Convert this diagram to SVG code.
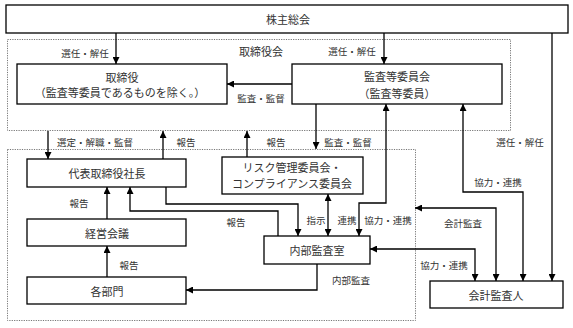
<svg xmlns="http://www.w3.org/2000/svg" width="573" height="328" viewBox="0 0 573 328">
<style>
.box{fill:#fff;stroke:#000;stroke-width:1.3}
.grp{fill:none;stroke:#777;stroke-width:1;stroke-dasharray:1.2 1.2}
.t{font-family:"Noto Sans CJK JP","Noto Sans CJK SC",sans-serif;font-size:11px;fill:#333;text-anchor:middle;dominant-baseline:central}
.l{font-family:"Noto Sans CJK JP","Noto Sans CJK SC",sans-serif;font-size:9.5px;fill:#333;text-anchor:middle;dominant-baseline:central}
.c{fill:none;stroke:#000;stroke-width:1.3}
.a{marker-end:url(#ah)}
.b{marker-start:url(#ahs);marker-end:url(#ah)}
</style>
<defs>
<marker id="ah" viewBox="0 0 10 10" refX="10" refY="5" markerWidth="7" markerHeight="7" markerUnits="userSpaceOnUse" orient="auto"><path d="M0,0 L10,5 L0,10 z" fill="#000"/></marker>
<marker id="ahs" viewBox="0 0 10 10" refX="0" refY="5" markerWidth="7" markerHeight="7" markerUnits="userSpaceOnUse" orient="auto"><path d="M10,0 L0,5 L10,10 z" fill="#000"/></marker>
</defs>
<rect width="573" height="328" fill="#fff"/>
<g id="board-group">
<rect class="grp" x="7.5" y="39.5" width="503" height="91"/>
<text class="t" x="261" y="51">取締役会</text>
</g>
<g id="exec-group">
<rect class="grp" x="7.5" y="149.5" width="408" height="171"/>
</g>
<g id="connectors">
<path class="c a" d="M116,33 V64"/>
<path class="c a" d="M384,33 V64"/>
<path class="c a" d="M552,33 V281"/>
<path class="c a" d="M292,84 H227"/>
<path class="c a" d="M48,131 V159"/>
<path class="c a" d="M163,159 V131"/>
<path class="c a" d="M247,157 V131"/>
<path class="c a" d="M316,104 V149"/>
<path class="c a" d="M107,219 V187"/>
<path class="c a" d="M107,277 V246"/>
<path class="c a" d="M166,187 V204 H298 V236"/>
<path class="c a" d="M278,236 V211 H130 V187"/>
<path class="c b" d="M328,194 V236"/>
<path class="c b" d="M386,104 V203 H359 V236"/>
<path class="c b" d="M415,208 H496 V281"/>
<path class="c b" d="M463,104 V192 H523 V281"/>
<path class="c b" d="M370,249 H475 V281"/>
<path class="c a" d="M317,264 V290 H186"/>
<text class="l" x="85" y="53">選任・解任</text>
<text class="l" x="352" y="51">選任・解任</text>
<text class="l" x="520" y="142">選任・解任</text>
<text class="l" x="261" y="98">監査・監督</text>
<text class="l" x="95" y="142">選定・解職・監督</text>
<text class="l" x="186" y="142">報告</text>
<text class="l" x="276" y="142">報告</text>
<text class="l" x="348" y="142">監査・監督</text>
<text class="l" x="79" y="203">報告</text>
<text class="l" x="129" y="265">報告</text>
<text class="l" x="236" y="222">報告</text>
<text class="l" x="316" y="220">指示</text>
<text class="l" x="347" y="220">連携</text>
<text class="l" x="388" y="220">協力・連携</text>
<text class="l" x="463" y="223">会計監査</text>
<text class="l" x="498" y="182">協力・連携</text>
<text class="l" x="444" y="265">協力・連携</text>
<text class="l" x="351" y="280">内部監査</text>
</g>
<g id="shareholders">
<rect class="box" x="6" y="5" width="562" height="28"/>
<text class="t" x="288" y="19">株主総会</text>
</g>
<g id="directors">
<rect class="box" x="17" y="64" width="210" height="40"/>
<text class="t" x="122" y="77">取締役</text>
<text class="t" x="120" y="92">（監査等委員であるものを除く。）</text>
</g>
<g id="audit-committee">
<rect class="box" x="292" y="64" width="210" height="40"/>
<text class="t" x="397" y="76">監査等委員会</text>
<text class="t" x="397" y="93">（監査等委員）</text>
</g>
<g id="president">
<rect class="box" x="27" y="159" width="159" height="28"/>
<text class="t" x="107" y="173">代表取締役社長</text>
</g>
<g id="risk-committee">
<rect class="box" x="222" y="157" width="141" height="37"/>
<text class="t" x="292" y="167">リスク管理委員会・</text>
<text class="t" x="292" y="183">コンプライアンス委員会</text>
</g>
<g id="management-meeting">
<rect class="box" x="27" y="219" width="159" height="27"/>
<text class="t" x="107" y="233">経営会議</text>
</g>
<g id="departments">
<rect class="box" x="27" y="277" width="159" height="27"/>
<text class="t" x="107" y="291">各部門</text>
</g>
<g id="internal-audit">
<rect class="box" x="264" y="236" width="106" height="28"/>
<text class="t" x="317" y="250">内部監査室</text>
</g>
<g id="accounting-auditor">
<rect class="box" x="430" y="281" width="133" height="27"/>
<text class="t" x="496" y="295">会計監査人</text>
</g>
</svg>
